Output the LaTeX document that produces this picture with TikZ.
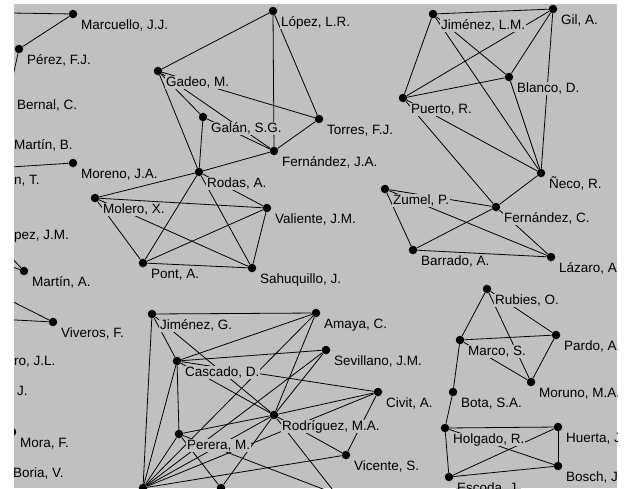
\documentclass[tikz,border=0pt]{standalone}
\usepackage{fontspec}
\setmainfont{Liberation Sans}
\definecolor{panel}{RGB}{192,192,192}
\begin{document}
\begin{tikzpicture}[x=1pt,y=-1pt,
  dot/.style={circle,fill=black,inner sep=0pt,minimum size=8.5pt},
  who/.style={anchor=base west,fill=panel,inner xsep=1pt,inner ysep=0.5pt,
    font=\fontsize{13.5}{14}\selectfont,text height=9.5pt,text depth=2.5pt},
  link/.style={draw=black,line width=0.8pt}]
\useasboundingbox (0,0) rectangle (624,488);
\fill[white] (0,0) rectangle (624,488);
\begin{scope}
\clip (14,4) rectangle (617,488);
\fill[panel] (14,4) rectangle (617,488);
% authors (dots)
\foreach \n/\x/\y in {
  marcuello/73/14, perez/19/49, bernal/9/94, martinB/6/134, gadeo/158/71,
  lopezLR/273/11, galan/203/117, torres/319/119, fernJA/274/151, rodas/199/172,
  moreno/73/163, molero/95/198, valiente/267/208, pont/143/263,
  sahuquillo/252/268, martinA/24/271, viveros/53/322, mora/12/432, boria/5/462,
  jimLM/433/14, gil/553/9, blanco/509/77, puerto/403/98, neco/541/173,
  zumel/385/189, fernC/496/207, barrado/413/250, lazaro/551/257,
  jimG/152/314, amaya/316/313, sevillano/326/350, cascado/177/361,
  civit/378/392, rodriguez/274/415, perera/179/434, vicente/346/455,
  bl/143/488, bm/221/488, offD/336/494,
  rubies/487/289, marco/460/340, pardo/556/335, moruno/531/382, bota/453/392,
  holgado/445/428, huerta/558/427, bosch/558/466, escoda/449/477,
  offM/-50/12, offT/-20/169, offJM/-10/235, offA/-60/242, offV1/-40/275,
  offV2/-60/316}
  \node[dot] (\n) at (\x,\y) {};
% co-authorship links
\foreach \a/\b in {
  offM/marcuello, marcuello/perez, perez/bernal,
  gadeo/lopezLR, gadeo/galan, gadeo/torres, gadeo/fernJA, gadeo/rodas,
  lopezLR/fernJA, lopezLR/torres, torres/fernJA, galan/fernJA, galan/rodas,
  rodas/fernJA, offT/moreno,
  molero/rodas, molero/valiente, molero/sahuquillo, molero/pont,
  rodas/pont, rodas/sahuquillo, rodas/valiente,
  pont/valiente, pont/sahuquillo, valiente/sahuquillo,
  offJM/martinA, offA/martinA, offV1/viveros, offV2/viveros,
  jimLM/gil, jimLM/puerto, jimLM/blanco, jimLM/neco,
  puerto/gil, puerto/blanco, puerto/neco, puerto/fernC,
  gil/blanco, gil/neco, blanco/neco,
  neco/fernC, zumel/fernC, zumel/barrado, zumel/lazaro,
  fernC/barrado, fernC/lazaro, barrado/lazaro,
  rubies/marco, rubies/pardo, rubies/moruno, marco/pardo, marco/moruno,
  pardo/moruno, marco/bota, bota/holgado, holgado/huerta, holgado/bosch,
  holgado/escoda, escoda/huerta, escoda/bosch, huerta/bosch,
  jimG/amaya, jimG/bl, jimG/cascado, jimG/rodriguez,
  amaya/cascado, amaya/rodriguez, amaya/bl,
  cascado/sevillano, cascado/civit, cascado/rodriguez, cascado/perera, cascado/bl,
  sevillano/rodriguez, sevillano/bl,
  civit/rodriguez, civit/vicente, civit/bl,
  rodriguez/perera, rodriguez/vicente, rodriguez/bl, rodriguez/bm, rodriguez/offD,
  perera/bl, perera/bm, perera/offD, vicente/bl}
  \draw[link] (\a) -- (\b);
% names
\foreach \n/\t in {
  marcuello/{Marcuello, J.J.}, perez/{Pérez, F.J.}, bernal/{Bernal, C.},
  martinB/{Martín, B.}, gadeo/{Gadeo, M.}, lopezLR/{López, L.R.},
  galan/{Galán, S.G.}, torres/{Torres, F.J.}, fernJA/{Fernández, J.A.},
  rodas/{Rodas, A.}, moreno/{Moreno, J.A.}, molero/{Molero, X.},
  valiente/{Valiente, J.M.}, pont/{Pont, A.}, sahuquillo/{Sahuquillo, J.},
  martinA/{Martín, A.}, viveros/{Viveros, F.}, mora/{Mora, F.}, boria/{Boria, V.},
  jimLM/{Jiménez, L.M.}, gil/{Gil, A.}, blanco/{Blanco, D.}, puerto/{Puerto, R.},
  neco/{Ñeco, R.}, zumel/{Zumel, P.}, fernC/{Fernández, C.},
  barrado/{Barrado, A.}, lazaro/{Lázaro, A.},
  jimG/{Jiménez, G.}, amaya/{Amaya, C.}, sevillano/{Sevillano, J.M.},
  cascado/{Cascado, D.}, civit/{Civit, A.}, rodriguez/{Rodríguez, M.A.},
  perera/{Perera, M.}, vicente/{Vicente, S.},
  rubies/{Rubies, O.}, marco/{Marco, S.}, pardo/{Pardo, A.},
  moruno/{Moruno, M.A.}, bota/{Bota, S.A.}, holgado/{Holgado, R.},
  huerta/{Huerta, J.}, bosch/{Bosch, J.}, escoda/{Escoda, J.}}
  \node[who] (\n-t) at ([xshift=7pt,yshift=-15pt]\n.center) {\t};
% names cut by the left margin
\node[who] (tT) at (13,184) {n, T.};
\node[who] (tJM) at (13,239) {pez, J.M.};
\node[who] (tJL) at (13,365) {ro, J.L.};
\node[who] (tJ) at (16,395) {J.};
\end{scope}
\end{tikzpicture}
\end{document}
